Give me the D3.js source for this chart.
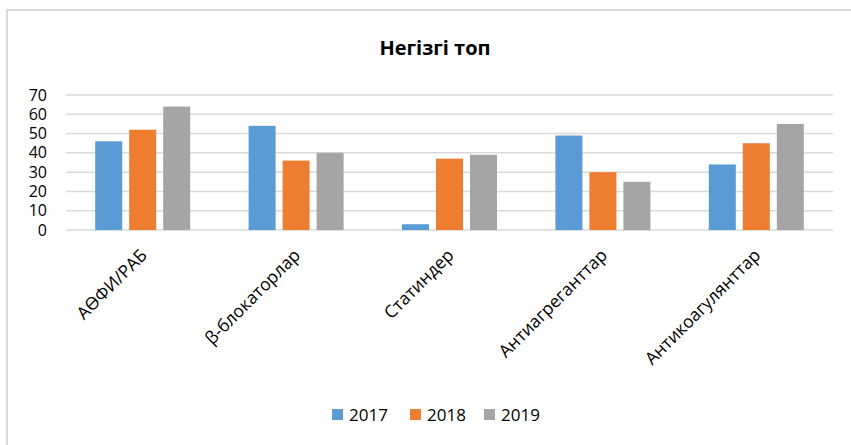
<!DOCTYPE html>
<html>
<head>
<meta charset="utf-8">
<script src="https://cdnjs.cloudflare.com/ajax/libs/d3/7.8.5/d3.min.js"></script>
<style>
    body { margin: 0; background: #fff; }
    svg { font-family: "Open Sans", "Liberation Sans", Arial, sans-serif; }
    .grid line { stroke: #d9d9d9; stroke-width: 1.5; }
    .tick-label { font-size: 17px; fill: #000; }
</style>
</head>
<body>
<svg id="chart" width="851" height="445"></svg>
<script>
// chart data
var categories = ['АӨФИ/РАБ', 'β-блокаторлар', 'Статиндер', 'Антиагреганттар', 'Антикоагулянттар'];
var years = ['2017', '2018', '2019'];
var values2017 = [46, 54, 3, 49, 34];
var values2018 = [52, 36, 37, 30, 45];
var values2019 = [64, 40, 39, 25, 55];
var yTicks = [0, 10, 20, 30, 40, 50, 60, 70];
var colors = ['#5b9bd5', '#ed7d31', '#a5a5a5'];

var series = [values2017, values2018, values2019];

var svg = d3.select('#chart');

// outer frame (only top and left edges visible in the picture)
svg.append('rect')
    .attr('x', 7)
    .attr('y', 10)
    .attr('width', 900)
    .attr('height', 500)
    .attr('fill', 'none')
    .attr('stroke', '#d9d9d9')
    .attr('stroke-width', 2);

svg.append('text')
    .attr('x', 435)
    .attr('y', 55)
    .attr('text-anchor', 'middle')
    .style('font-size', '20px')
    .style('font-weight', 'bold')
    .text('Негізгі топ');

var x = d3.scaleBand()
    .domain(categories)
    .range([66, 833]);

var groupWidth = 95;
var xSub = d3.scaleBand()
    .domain(years)
    .range([0, groupWidth])
    .paddingInner(7 / 34);

var y = d3.scaleLinear()
    .domain([0, 70])
    .range([230, 95]);

// gridlines
svg.append('g')
    .attr('class', 'grid')
    .selectAll('line')
    .data(yTicks)
    .join('line')
    .attr('x1', 66)
    .attr('x2', 833)
    .attr('y1', function(d) { return y(d); })
    .attr('y2', function(d) { return y(d); });

// y tick labels
svg.append('g')
    .selectAll('text')
    .data(yTicks)
    .join('text')
    .attr('class', 'tick-label')
    .style('font-size', '16px')
    .attr('x', 47)
    .attr('y', function(d) { return y(d); })
    .attr('dy', '0.35em')
    .attr('text-anchor', 'end')
    .text(function(d) { return d; });

// bars
years.forEach(function(yr, i) {
    svg.append('g')
        .selectAll('rect')
        .data(series[i])
        .join('rect')
        .attr('x', function(d, j) {
            return x(categories[j]) + (x.bandwidth() - groupWidth) / 2 + xSub(yr);
        })
        .attr('y', function(d) { return y(d); })
        .attr('width', xSub.bandwidth())
        .attr('height', function(d) { return y(0) - y(d); })
        .attr('fill', colors[i]);
});

// category labels, rotated
svg.append('g')
    .selectAll('text')
    .data(categories)
    .join('text')
    .attr('class', 'tick-label')
    .style('font-size', '17.5px')
    .attr('text-anchor', 'end')
    .attr('dy', '0.35em')
    .attr('transform', function(d) {
        return 'translate(' + (x(d) + x.bandwidth() / 2 + 1) + ',252) rotate(-45)';
    })
    .text(function(d) { return d; });

// legend
var legendX = [332, 410, 484];
var legend = svg.append('g');
years.forEach(function(yr, i) {
    legend.append('rect')
        .attr('x', legendX[i])
        .attr('y', 409)
        .attr('width', 11)
        .attr('height', 11)
        .attr('fill', colors[i]);
    legend.append('text')
        .attr('class', 'tick-label')
        .attr('x', legendX[i] + 17)
        .attr('y', 415)
        .attr('dy', '0.35em')
        .text(yr);
});
</script>
</body>
</html>
